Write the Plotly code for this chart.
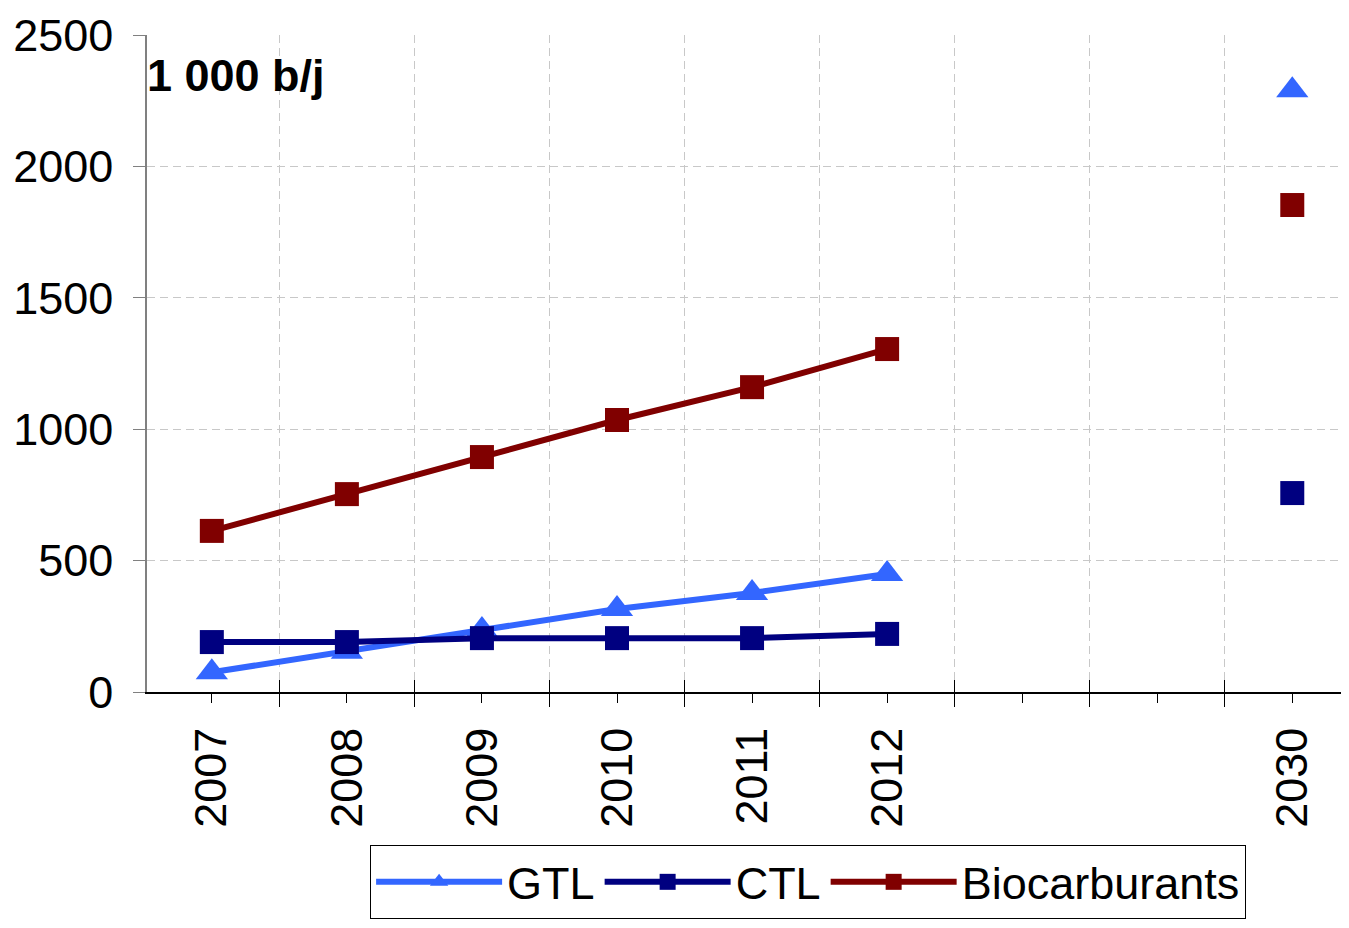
import plotly.graph_objects as go

years = ["2007", "2008", "2009", "2010", "2011", "2012", "", "", "2030"]
positions = [0, 1, 2, 3, 4, 5, 6, 7, 8]
gtl = [75, 153, 236, 316, 377, 449, None, None, 2290]
ctl = [190, 190, 205, 205, 205, 221, None, None, 757]
bio = [613, 753, 894, 1035, 1160, 1305, None, None, 1853]
y_ticks = [0, 500, 1000, 1500, 2000, 2500]
boundaries = [0.5, 1.5, 2.5, 3.5, 4.5, 5.5, 6.5, 7.5]

FONT = "Liberation Sans, Arial, sans-serif"
FS = 45

fig = go.Figure()
fig.add_trace(go.Scatter(x=positions, y=gtl, name="GTL", mode="lines+markers",
                         line=dict(color="#3366FF", width=6),
                         marker=dict(symbol="triangle-up", size=28, color="#3366FF")))
fig.add_trace(go.Scatter(x=positions, y=ctl, name="CTL", mode="lines+markers",
                         line=dict(color="#000080", width=6),
                         marker=dict(symbol="square", size=24, color="#000080")))
fig.add_trace(go.Scatter(x=positions, y=bio, name="Biocarburants", mode="lines+markers",
                         line=dict(color="#800000", width=6),
                         marker=dict(symbol="square", size=24, color="#800000")))
# invisible trace on overlay axis to show upper part of crossing ticks
fig.add_trace(go.Scatter(x=[None], y=[None], xaxis="x2", showlegend=False, hoverinfo="skip"))

xr = [-0.48, 8.42]
fig.update_layout(
    width=1341, height=912,
    margin=dict(l=139, r=0, t=27, b=228),
    paper_bgcolor="white", plot_bgcolor="white",
    font=dict(family=FONT, size=FS, color="black"),
    showlegend=True,
    xaxis=dict(
        range=xr, tickmode="array", tickvals=positions, ticktext=years,
        tickangle=-90, ticks="outside", ticklen=9, tickcolor="black", tickwidth=1,
        showgrid=False, zeroline=False, showline=True, linecolor="black", linewidth=1.5,
        ticklabelstandoff=7,
        minor=dict(tickmode="array", tickvals=boundaries, ticks="outside", ticklen=13,
                   tickcolor="black", tickwidth=1, showgrid=True,
                   gridcolor="#c8c8c8", gridwidth=1, griddash="8px,5px"),
        tickfont=dict(family=FONT, size=FS),
    ),
    xaxis2=dict(
        range=xr, overlaying="x", anchor="y", side="bottom",
        tickmode="array", tickvals=[-0.5] + boundaries, ticks="inside", ticklen=12,
        tickcolor="black", tickwidth=1, showticklabels=False,
        showgrid=False, zeroline=False, showline=False,
    ),
    yaxis=dict(
        range=[0, 2500], tickmode="array", tickvals=y_ticks,
        ticks="outside", ticklen=12, tickcolor="#808080", tickwidth=1,
        showgrid=True, gridcolor="#c8c8c8", gridwidth=1, griddash="8px,5px",
        zeroline=False, showline=True, linecolor="#808080", linewidth=1.5,
        ticklabelstandoff=11,
        tickfont=dict(family=FONT, size=FS),
    ),
    legend=dict(
        orientation="h", x=0.55, xanchor="center", y=-0.233, yanchor="top",
        bordercolor="black", borderwidth=1, bgcolor="white",
        font=dict(family=FONT, size=FS), itemwidth=126,
    ),
    annotations=[dict(
        text="<b>1 000 b/j</b>", xref="paper", yref="paper", x=0.0, y=0.939,
        xanchor="left", yanchor="middle", showarrow=False, xshift=-2,
        font=dict(family=FONT, size=FS, color="black"),
    )],
)

fig.write_html("out.html")
